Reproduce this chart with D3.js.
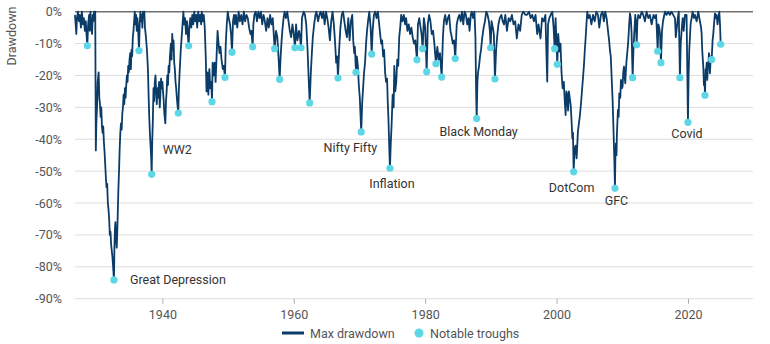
<!DOCTYPE html>
<html>
<head>
<meta charset="utf-8">
<style>
  body { margin: 0; background: #fff; font-family: Roboto, sans-serif; }
  .tick text { fill: #555; font-size: 12.5px; font-family: Roboto, sans-serif; }
  .note { fill: #333; font-size: 12.5px; }
  .legend text { fill: #555; font-size: 12.5px; }
</style>
<script src="https://cdn.jsdelivr.net/npm/d3@7"></script>
</head>
<body>
<script>
// drawdown series, [decimal year, % below prior peak]
const dd1926to1945 = [
  [1926.7,-1],[1926.8,-4],[1926.9,-7],[1927.0,-2],[1927.15,0],[1927.3,-3],[1927.45,-1],[1927.6,-5],[1927.75,0],[1927.9,-4],
  [1928.05,-2],[1928.2,-6],[1928.35,-3],[1928.45,-7],[1928.57,-10.7],[1928.7,-4],[1928.85,-1],[1928.95,-6],[1929.05,0],[1929.15,-4],
  [1929.3,-7],[1929.4,-1],[1929.5,-3],[1929.6,0],[1929.7,-2],[1929.78,0],
  [1929.87,-43.5],[1929.95,-35],[1930.05,-30],[1930.15,-22],[1930.3,-19],[1930.4,-27],[1930.5,-29],[1930.6,-33],[1930.7,-30],
  [1930.8,-36],[1930.9,-38],[1931.0,-36],[1931.1,-41],[1931.2,-44],[1931.3,-48],[1931.4,-52],[1931.5,-55],[1931.6,-54],[1931.7,-60],
  [1931.8,-62],[1931.9,-65],[1932.0,-70],[1932.1,-69],[1932.2,-73],[1932.3,-75],[1932.4,-77],[1932.5,-80],[1932.63,-84.1],
  [1932.7,-74],[1932.78,-68],[1932.85,-66],[1932.95,-71],[1933.05,-74],[1933.12,-70],[1933.2,-64],[1933.3,-56],[1933.4,-50],
  [1933.5,-43],[1933.6,-38],[1933.7,-35],[1933.8,-37],[1933.9,-32],[1934.0,-30],[1934.1,-26],[1934.2,-29],[1934.3,-24],[1934.4,-27],
  [1934.5,-23],[1934.6,-20],[1934.7,-22],[1934.8,-17],[1934.9,-19],[1935.0,-15],[1935.1,-13],[1935.2,-18],[1935.3,-12],[1935.4,-14],
  [1935.5,-8],[1935.6,-6],[1935.7,-3],[1935.8,0],
  [1935.9,-4],[1936.0,-1],[1936.1,-6],[1936.2,-2],[1936.3,-5],[1936.44,-12.2],[1936.55,-4],[1936.65,0],[1936.75,-3],[1936.85,-1],
  [1936.95,-5],[1937.05,0],[1937.15,-2],[1937.25,0],[1937.35,-5],
  [1937.5,-8],[1937.65,-12],[1937.8,-18],[1937.9,-26],[1938.0,-33],[1938.1,-38],[1938.2,-42],[1938.3,-46],[1938.37,-51],
  [1938.45,-41],[1938.55,-34],[1938.65,-24],[1938.75,-28],[1938.85,-22],[1938.95,-20],[1939.05,-25],[1939.15,-29],[1939.25,-24],
  [1939.35,-27],[1939.5,-22],[1939.6,-30],[1939.7,-26],[1939.8,-21],[1939.9,-24],[1940.0,-22],[1940.1,-25],[1940.2,-28],[1940.3,-32],
  [1940.45,-35],[1940.55,-28],[1940.65,-25],[1940.75,-20],[1940.85,-23],[1940.95,-17],[1941.05,-19],[1941.15,-14],[1941.3,-10],
  [1941.4,-15],[1941.5,-7],[1941.6,-12],[1941.7,-9],[1941.8,-16],[1941.9,-18],[1942.0,-22],[1942.1,-24],[1942.2,-27],[1942.42,-31.8],
  [1942.5,-25],[1942.6,-20],[1942.7,-16],[1942.8,-12],[1942.9,-9],[1943.0,-6],[1943.1,-3],[1943.2,0],
  [1943.3,-4],[1943.45,-2],[1943.6,-7],[1943.75,-3],[1943.9,-8],[1944.0,-10.7],[1944.1,-5],[1944.25,-2],[1944.4,-5],[1944.55,-1],
  [1944.7,-4],[1944.85,0],[1945.0,-3],[1945.15,-1],[1945.3,-5],[1945.45,0],[1945.6,-3],[1945.75,-1],[1945.9,-4]
];
const dd1946to1965 = [
  [1946.0,0],[1946.15,-3],[1946.3,-1],[1946.45,-5],[1946.6,-14],[1946.72,-25],[1946.85,-19],[1947.0,-26],[1947.15,-18],[1947.3,-24],
  [1947.45,-22],[1947.55,-28.2],[1947.65,-16],[1947.8,-20],[1947.95,-16],[1948.1,-22],[1948.25,-14],[1948.4,-6],[1948.55,-10],
  [1948.7,-13],[1948.85,-11],[1949.0,-15],[1949.2,-18],[1949.35,-17],[1949.53,-20.6],[1949.65,-10],[1949.8,-4],[1949.95,0],
  [1950.1,-2],[1950.3,-4],[1950.45,-7],[1950.6,-12.7],[1950.75,-3],[1950.9,-1],
  [1951.05,-4],[1951.2,-1],[1951.4,-5],[1951.6,0],[1951.8,-3],[1952.0,-1],[1952.2,-4],[1952.4,0],[1952.6,-3],[1952.8,-1],[1953.0,-2],
  [1953.2,-5],[1953.4,-7],[1953.55,-6],[1953.74,-11],[1953.85,-4],[1954.0,-1],[1954.2,0],[1954.4,-3],[1954.6,0],[1954.8,-2],[1955.0,0],
  [1955.2,-4],[1955.4,-1],[1955.6,-3],[1955.8,-6],[1956.0,-2],[1956.2,-5],[1956.4,-1],[1956.6,-4],[1956.8,-2],[1956.95,-7],
  [1957.09,-11.6],[1957.3,-6],[1957.5,-8],[1957.7,-15],[1957.85,-21.2],[1958.0,-14],[1958.15,-9],[1958.3,-5],[1958.45,-2],[1958.6,0],
  [1958.8,-2],[1959.0,0],[1959.2,-3],[1959.4,-6],[1959.6,-8],[1959.8,-4],[1960.0,-7],[1960.18,-11.3],[1960.35,-4],[1960.55,-9],
  [1960.8,-6],[1960.95,-8],[1961.1,-11.3],[1961.25,-2],[1961.5,0],[1961.7,-1],[1961.9,-4],[1962.1,-12],[1962.25,-20],[1962.42,-28.6],
  [1962.6,-19],[1962.75,-13],[1962.9,-8],[1963.1,-4],[1963.3,-1],[1963.45,0],[1963.7,-3],[1963.9,-1],[1964.1,0],[1964.3,-2],
  [1964.5,0],[1964.7,-4],[1964.9,0],[1965.1,-2],[1965.3,-5],[1965.5,-9],[1965.7,-3],[1965.9,0]
];
const dd1966to1985 = [
  [1966.1,-4],[1966.3,-10],[1966.45,-16],[1966.6,-14],[1966.73,-20.8],[1966.9,-12],[1967.1,-5],[1967.3,-1],[1967.5,0],[1967.7,-3],
  [1967.9,-6],[1968.1,-8],[1968.3,-2],[1968.5,-9],[1968.7,-3],[1968.9,-1],[1969.05,-9],[1969.2,-13],[1969.3,-11],[1969.47,-19],
  [1969.6,-14],[1969.75,-17],[1969.9,-23],[1970.05,-27],[1970.15,-32],[1970.27,-37.7],[1970.4,-29],[1970.55,-24],[1970.7,-19],
  [1970.85,-16],[1971.0,-10],[1971.15,-6],[1971.3,-3],[1971.5,0],[1971.7,-5],[1971.86,-13.3],[1972.0,-6],[1972.2,-1],[1972.4,0],
  [1972.6,-2],[1972.8,0],[1972.95,-3],[1973.1,-6],[1973.3,-10],[1973.45,-9],[1973.6,-14],[1973.75,-12],[1973.9,-19],[1974.05,-22],
  [1974.2,-21],[1974.3,-28],[1974.4,-33],[1974.5,-40],[1974.57,-45],[1974.64,-49.1],[1974.75,-42],[1974.9,-35],[1975.05,-26],
  [1975.2,-30],[1975.3,-17],[1975.45,-25],[1975.6,-22],[1975.75,-15],[1975.9,-17],[1976.05,-8],[1976.2,-5],[1976.35,-1],[1976.55,-3],
  [1976.75,-1],[1976.95,-4],[1977.1,-2],[1977.3,-6],[1977.5,-4],[1977.7,-7],[1977.9,-5],[1978.1,-8],[1978.3,-10],[1978.5,-9],
  [1978.75,-15.1],[1978.9,-4],[1979.1,-2],[1979.3,-5],[1979.45,-7],[1979.62,-11.6],[1979.8,-2],[1980.0,-5],[1980.23,-18.8],
  [1980.4,-4],[1980.6,-1],[1980.8,-3],[1981.0,-7],[1981.2,-6],[1981.4,-10],[1981.64,-16.3],[1981.85,-11],[1982.05,-15],[1982.25,-13],
  [1982.51,-20.5],[1982.7,-8],[1982.85,-3],[1983.05,-1],[1983.25,-4],[1983.45,-2],[1983.65,-1],[1983.85,-6],[1984.05,-8],[1984.2,-10],
  [1984.4,-9],[1984.58,-14.7],[1984.8,-4],[1985.0,-2],[1985.2,-1],[1985.4,-3],[1985.6,0],[1985.8,-4]
];
const dd1986to2005 = [
  [1986.0,0],[1986.2,-1],[1986.4,-4],[1986.6,-2],[1986.75,-6],[1986.95,-1],[1987.1,0],[1987.3,-2],[1987.5,0],[1987.65,-8],
  [1987.75,-24],[1987.84,-33.5],[1987.95,-22],[1988.05,-19],[1988.2,-17],[1988.35,-14],[1988.5,-12],[1988.7,-8],[1988.9,-5],
  [1989.1,-3],[1989.3,0],[1989.5,-1],[1989.7,-3],[1989.85,-6],[1989.97,-11.3],[1990.1,-3],[1990.3,-5],[1990.45,-7],[1990.62,-21.1],
  [1990.8,-12],[1990.95,-8],[1991.15,-4],[1991.35,-2],[1991.6,-1],[1991.8,-3],[1992.0,-4],[1992.2,-1],[1992.45,-6],[1992.7,-2],
  [1992.95,-3],[1993.2,-1],[1993.45,-4],[1993.7,-3],[1993.95,-8.4],[1994.2,-4],[1994.45,-6],[1994.7,-1],[1994.95,0],[1995.25,-1],
  [1995.5,-1],[1995.8,0],[1996.05,-2],[1996.3,-1],[1996.55,-3],[1996.8,-1],[1997.05,-7],[1997.25,-4],[1997.55,-8.4],[1997.8,-2],
  [1998.05,-3],[1998.3,-1],[1998.58,-21.9],[1998.7,-4],[1998.9,-2],[1999.1,-1],[1999.35,0],[1999.55,-5],[1999.71,-11.6],[1999.85,-2],
  [2000.11,-16.5],[2000.25,-7],[2000.45,-12.5],[2000.6,-10],[2000.75,-18.8],[2000.92,-24],[2001.1,-22],[2001.25,-28],[2001.38,-32.4],
  [2001.5,-25],[2001.63,-26],[2001.75,-31],[2001.88,-25],[2002.0,-27],[2002.15,-29.3],[2002.3,-35],[2002.4,-39.7],[2002.5,-38],
  [2002.6,-50.2],[2002.75,-43],[2002.9,-42],[2003.05,-46],[2003.25,-37.6],[2003.4,-35],[2003.56,-32.4],[2003.75,-28],[2003.9,-24],
  [2004.05,-20],[2004.17,-16.7],[2004.3,-12],[2004.42,-8.4],[2004.55,-4],[2004.67,0],[2004.85,-2],[2005.05,-1],[2005.3,-4],
  [2005.55,-1],[2005.8,-3]
];
const dd2006to2025 = [
  [2006.05,0],[2006.3,-1],[2006.5,-5],[2006.75,-1],[2007.0,0],[2007.2,-3],[2007.4,0],[2007.62,-2],[2007.87,-6.8],[2008.0,-9],
  [2008.12,-12],[2008.25,-14],[2008.38,-20.4],[2008.53,-27.7],[2008.68,-38],[2008.8,-47],[2008.89,-55.4],[2008.95,-46],
  [2009.04,-41.3],[2009.12,-45],[2009.19,-38],[2009.34,-30.8],[2009.45,-33],[2009.55,-25.6],[2009.7,-27],[2009.8,-21.4],
  [2009.95,-24],[2010.05,-23.5],[2010.15,-19],[2010.26,-17.2],[2010.35,-20],[2010.46,-22.5],[2010.56,-18],[2010.66,-15.1],
  [2010.8,-12],[2010.92,-8.9],[2011.05,-4],[2011.17,-0.5],[2011.3,-2],[2011.42,-6.8],[2011.58,-20.7],[2011.7,-12],[2011.85,-6],
  [2011.98,-1],[2012.1,-4],[2012.19,-10.4],[2012.3,-3],[2012.44,-1],[2012.7,-2],[2012.95,0],[2013.2,-1],[2013.45,-3],[2013.7,0],
  [2013.96,-2],[2014.2,-1],[2014.47,-4],[2014.75,-1],[2014.97,-2],[2015.15,-1],[2015.25,-5],[2015.39,-12.4],[2015.5,-4],
  [2015.63,-5],[2015.75,-7],[2015.89,-16],[2016.05,-6],[2016.2,-3],[2016.5,0],[2016.75,-1],[2017.0,0],[2017.25,-1],[2017.5,0],
  [2017.75,-1],[2018.02,-2],[2018.15,-8],[2018.27,-5.7],[2018.45,-2],[2018.6,0],[2018.78,-20.7],[2018.9,-10],[2019.03,-6],
  [2019.2,-2],[2019.35,-6],[2019.54,-1],[2019.79,-1],[2020.0,-34.7],[2020.1,-20],[2020.2,-12],[2020.3,-8],[2020.4,-4],[2020.55,-2],
  [2020.71,0],[2020.9,-2],[2021.06,-1],[2021.32,-3],[2021.57,0],[2021.82,-3],[2022.0,-5],[2022.08,-6.8],[2022.17,-12],[2022.23,-14],
  [2022.33,-17.2],[2022.43,-23],[2022.5,-20],[2022.59,-26.2],[2022.68,-18],[2022.74,-19.3],[2022.85,-16],[2022.94,-21.4],
  [2023.02,-18],[2023.09,-17.2],[2023.2,-13],[2023.35,-19.3],[2023.47,-14],[2023.61,-15],[2023.75,-9],[2023.86,-6.8],[2024.0,-3],
  [2024.11,-0.5],[2024.25,-2],[2024.36,-1],[2024.5,-4],[2024.62,-2],[2024.77,0],[2024.88,-4],[2024.98,-10.2]
];

// notable troughs (cyan dots)
const troughYears = [1928.57,1932.63,1936.44,1938.37,1942.42,1944.0,1947.55,1949.53,1950.6,1953.74,1957.09,1957.85,1960.18,1961.1,
  1962.42,1966.73,1969.47,1970.27,1971.86,1974.64,1978.75,1979.62,1980.23,1981.64,1982.51,1984.58,1987.84,1989.97,1990.62,
  1999.71,2000.11,2002.6,2008.89,2011.58,2012.19,2015.39,2015.89,2018.78,2020.0,2022.59,2023.61,2024.98];
const troughValues = [-10.7,-84.1,-12.2,-51.0,-31.8,-10.7,-28.2,-20.6,-12.7,-11.0,-11.6,-21.2,-11.3,-11.3,
  -28.6,-20.8,-19.0,-37.7,-13.3,-49.1,-15.1,-11.6,-18.8,-16.3,-20.5,-14.7,-33.5,-11.3,-21.1,
  -11.6,-16.5,-50.2,-55.4,-20.7,-10.4,-12.4,-16.0,-20.7,-34.7,-26.2,-15.0,-10.2];

const eventNames = ["Great Depression","WW2","Nifty Fifty","Inflation","Black Monday","DotCom","GFC","Covid"];
const eventYears = [1932.63,1938.37,1970.27,1974.64,1987.84,2002.6,2008.89,2020.0];

const yTicks = [0,-10,-20,-30,-40,-50,-60,-70,-80,-90];
const xTicks = [1940,1960,1980,2000,2020];

const W = 770, H = 344;
const svg = d3.select("body").append("svg").attr("width", W).attr("height", H);

const x = d3.scaleLinear().domain([1926.7, 2029.9]).range([75, 753]);
const y = d3.scaleLinear().domain([-90, 0]).range([298.7, 11.7]);

// gridlines
svg.append("g").selectAll("line").data(yTicks).join("line")
  .attr("x1", 75).attr("x2", 753)
  .attr("y1", d => y(d)).attr("y2", d => y(d))
  .attr("stroke", d => d === 0 ? "#707070" : "#dedede")
  .attr("stroke-width", d => d === 0 ? 1.6 : 1);

// y axis labels
const yAxis = svg.append("g").attr("transform", "translate(62,0)")
  .call(d3.axisLeft(y).tickValues(yTicks).tickFormat(d => d + "%").tickSize(0).tickPadding(0));
yAxis.select(".domain").remove();

// x axis
const xAxis = svg.append("g").attr("transform", `translate(0,${y(-90)})`)
  .call(d3.axisBottom(x).tickValues(xTicks).tickFormat(d3.format("d")).tickSize(5).tickPadding(6));
xAxis.select(".domain").remove();
xAxis.selectAll(".tick line").attr("stroke", "#aaa");

svg.append("text")
  .attr("transform", "translate(16,36) rotate(-90)")
  .attr("text-anchor", "middle")
  .attr("fill", "#555").attr("font-size", 12.5)
  .text("Drawdown");

const series = [].concat(dd1926to1945, dd1946to1965, dd1966to1985, dd1986to2005, dd2006to2025);
const line = d3.line().x(d => x(d[0])).y(d => y(d[1]));

svg.append("path").datum(series)
  .attr("d", line)
  .attr("fill", "none")
  .attr("stroke", "#0b3c68")
  .attr("stroke-width", 1.8)
  .attr("stroke-linejoin", "round");

const troughs = troughYears.map((t, i) => ({ t, v: troughValues[i] }));
svg.append("g").selectAll("circle").data(troughs).join("circle")
  .attr("cx", d => x(d.t)).attr("cy", d => y(d.v))
  .attr("r", 3.6).attr("fill", "#5dd6e6");

// label placement relative to the trough dot
const place = {
  "Great Depression": [16, 4.5, "start"],
  "WW2": [11, -20.5, "start"],
  "Nifty Fifty": [16, 20.5, "end"],
  "Inflation": [2, 19.5, "middle"],
  "Black Monday": [2, 17.5, "middle"],
  "DotCom": [-2, 20.5, "middle"],
  "GFC": [1.5, 17, "middle"],
  "Covid": [-1, 16, "middle"]
};
eventNames.forEach((name, i) => {
  const tr = troughs.find(d => d.t === eventYears[i]);
  const p = place[name];
  svg.append("text").attr("class", "note")
    .attr("x", x(tr.t) + p[0]).attr("y", y(tr.v) + p[1])
    .attr("text-anchor", p[2])
    .text(name);
});

// legend
const lg = svg.append("g").attr("class", "legend");
lg.append("line").attr("x1", 282).attr("x2", 304).attr("y1", 333).attr("y2", 333)
  .attr("stroke", "#0b3c68").attr("stroke-width", 3);
lg.append("text").attr("x", 310).attr("y", 337.5).text("Max drawdown");
lg.append("circle").attr("cx", 419).attr("cy", 333).attr("r", 4.5).attr("fill", "#5dd6e6");
lg.append("text").attr("x", 430).attr("y", 337.5).text("Notable troughs");
</script>
</body>
</html>
